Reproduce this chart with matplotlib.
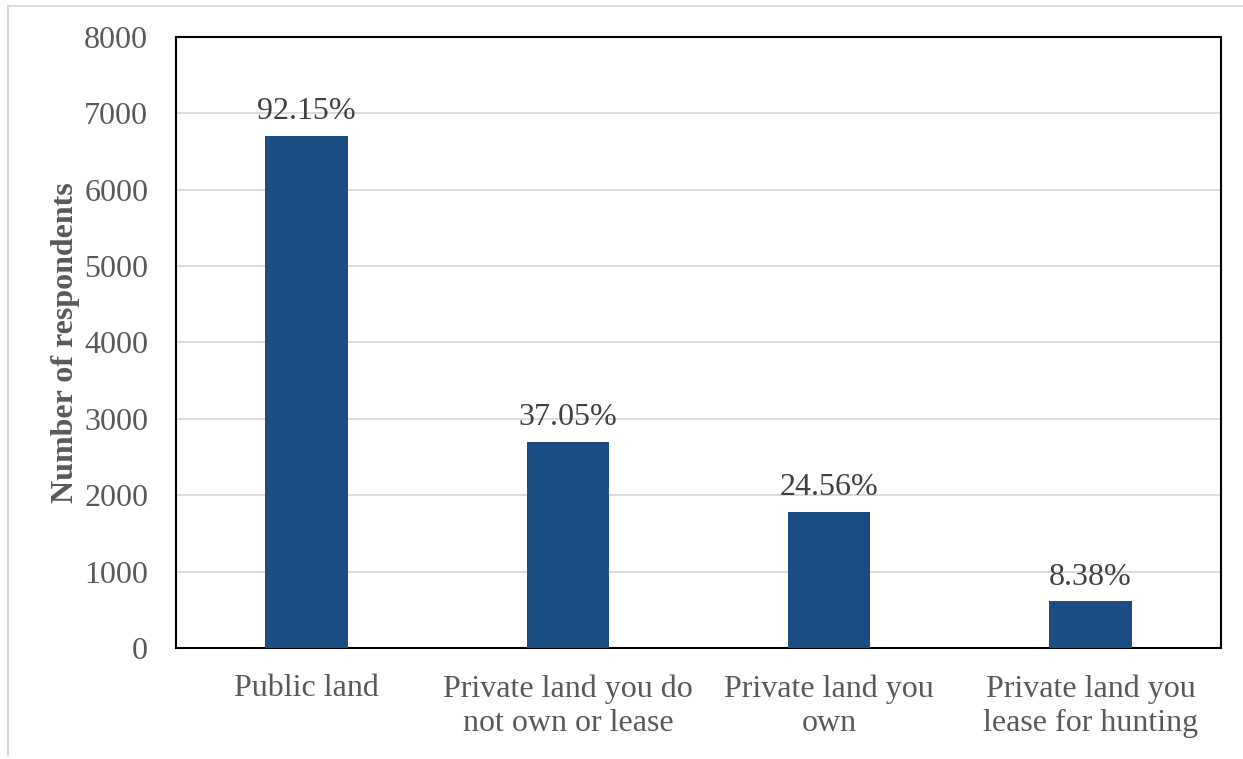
import matplotlib.pyplot as plt
from matplotlib.lines import Line2D

# data
categories = ["Public land", "Private land you do\nnot own or lease",
              "Private land you\nown", "Private land you\nlease for hunting"]
counts = [6702, 2695, 1786, 609]
pct_labels = ["92.15%", "37.05%", "24.56%", "8.38%"]
yticks = [0, 1000, 2000, 3000, 4000, 5000, 6000, 7000, 8000]

plt.rcParams['font.family'] = ['Liberation Serif', 'DejaVu Serif']

W, H = 1243, 759
fig = plt.figure(figsize=(W / 100, H / 100), dpi=100)
# axes box in pixel coords: left 176, right 1221, top 37, bottom 648
ax = fig.add_axes([176 / W, 1 - 648 / H, (1221 - 176) / W, (648 - 37) / H])

x = list(range(len(categories)))
bars = ax.bar(x, counts, width=0.315, color="#1B4C84", zorder=3)

for b, lab in zip(bars, pct_labels):
    ax.annotate(lab, (b.get_x() + b.get_width() / 2, b.get_height()),
                xytext=(0, 7), textcoords="offset points",
                ha="center", va="bottom", fontsize=23, color="#404040")

ax.set_xlim(-0.5, 3.5)
ax.set_ylim(0, 8000)
ax.set_yticks(yticks)
ax.set_yticklabels([str(t) for t in yticks], fontsize=23, color="#595959")
ax.set_xticks(x)
ax.set_xticklabels(categories, fontsize=23, color="#595959", linespacing=1.25)
ax.tick_params(axis="both", length=0)
ax.tick_params(axis="y", pad=20)
ax.tick_params(axis="x", pad=19)

ax.grid(axis="y", color="#D9D9D9", linewidth=1.3, zorder=0)
ax.set_axisbelow(True)
for s in ax.spines.values():
    s.set_color("black")
    s.set_linewidth(1.5)

ax.set_ylabel("Number of respondents", fontsize=23, fontweight="bold",
              color="#595959", labelpad=3)

# light frame round the chart (top and left edges visible)
fig.add_artist(Line2D([8 / W, 1], [1 - 6 / H, 1 - 6 / H], color="#D9D9D9", lw=1.5))
fig.add_artist(Line2D([8 / W, 8 / W], [1 - 6 / H, 1 - 755 / H], color="#D9D9D9", lw=1.5))

fig.savefig("out.png", dpi=100)
